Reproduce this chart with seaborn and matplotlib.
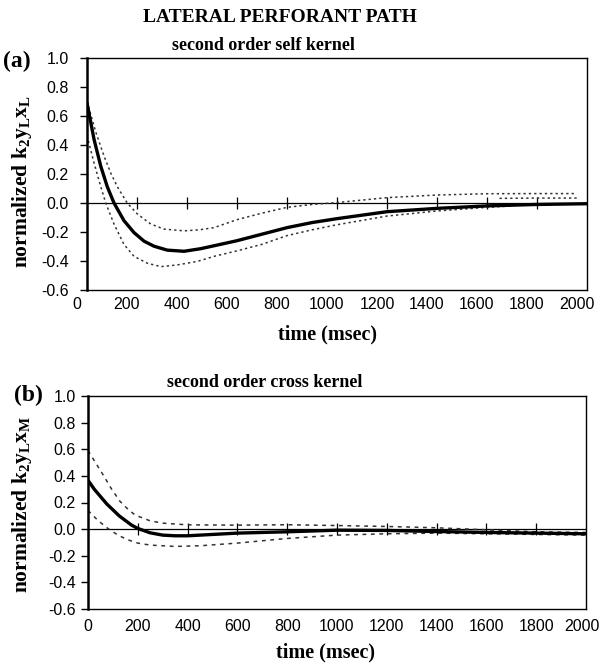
import matplotlib
matplotlib.use("Agg")
import matplotlib.pyplot as plt
import matplotlib.transforms as mtransforms
import seaborn as sns

# ---------------- data ----------------
# Panel (a): second order self kernel
t_a_solid = [0, 28, 55, 81, 108, 148, 188, 228, 268, 321, 388, 455, 508, 600, 700, 800, 900, 1000, 1200, 1400, 1600, 1800, 2000]
a_solid = [0.69, 0.44, 0.254, 0.113, 0.0, -0.122, -0.204, -0.263, -0.298, -0.325, -0.333, -0.315, -0.295, -0.26, -0.215, -0.17, -0.135, -0.108, -0.06, -0.037, -0.02, -0.01, -0.005]

t_a_upper = [0, 35, 68, 95, 121, 161, 201, 255, 308, 388, 450, 508, 600, 700, 800, 900, 1000, 1200, 1400, 1600, 1800, 1960]
a_upper = [0.70, 0.49, 0.324, 0.207, 0.113, 0.0, -0.075, -0.145, -0.18, -0.192, -0.185, -0.17, -0.115, -0.07, -0.03, -0.01, 0.003, 0.037, 0.055, 0.064, 0.065, 0.065]

t_a_lower = [0, 28, 55, 75, 108, 148, 188, 241, 295, 361, 441, 508, 600, 700, 800, 900, 1000, 1200, 1400, 1600, 1700]
a_lower = [0.465, 0.277, 0.113, 0.0, -0.145, -0.286, -0.368, -0.415, -0.439, -0.427, -0.403, -0.368, -0.33, -0.285, -0.225, -0.185, -0.15, -0.09, -0.055, -0.03, -0.02]

t_a_tail = [1650, 1800, 1960]
a_tail = [0.032, 0.034, 0.034]

# Panel (b): second order cross kernel
t_b_solid = [0, 25, 50, 75, 100, 125, 150, 175, 200, 250, 300, 350, 400, 500, 600, 800, 1000, 1200, 1400, 1600, 1800, 2000]
b_solid = [0.367, 0.30, 0.245, 0.19, 0.145, 0.10, 0.065, 0.03, 0.005, -0.028, -0.045, -0.05, -0.05, -0.04, -0.03, -0.02, -0.008, -0.01, -0.018, -0.025, -0.03, -0.035]

t_b_upper = [0, 30, 60, 95, 128, 160, 190, 250, 300, 400, 600, 800, 1000, 1200, 1400, 1600, 1800, 2000]
b_upper = [0.59, 0.50, 0.41, 0.30, 0.21, 0.15, 0.105, 0.062, 0.045, 0.032, 0.03, 0.033, 0.027, 0.02, 0.01, -0.005, -0.02, -0.025]

t_b_lower = [0, 40, 80, 120, 160, 200, 250, 350, 450, 600, 800, 1000, 1200, 1400, 1600, 1800, 2000]
b_lower = [0.14, 0.065, 0.005, -0.045, -0.08, -0.105, -0.12, -0.13, -0.125, -0.105, -0.07, -0.045, -0.035, -0.03, -0.035, -0.04, -0.045]

x_ticks = [0, 200, 400, 600, 800, 1000, 1200, 1400, 1600, 1800, 2000]
inner_ticks = [200, 400, 600, 800, 1000, 1200, 1400, 1600, 1800]
y_ticks = [-0.6, -0.4, -0.2, 0.0, 0.2, 0.4, 0.6, 0.8, 1.0]

main_title = "LATERAL PERFORANT PATH"
sub_a = "second order self kernel"
sub_b = "second order cross kernel"
ylab_a = r"normalized k$_2$y$_L$x$_L$"
ylab_b = r"normalized k$_2$y$_L$x$_M$"
xlab = "time (msec)"

# ---------------- style ----------------
sns.set_theme(style="white")
plt.rcParams["font.family"] = ["Liberation Sans", "DejaVu Sans"]
plt.rcParams["mathtext.fontset"] = "custom"
plt.rcParams["mathtext.rm"] = "Liberation Serif:bold"
plt.rcParams["mathtext.it"] = "Liberation Serif:bold"
plt.rcParams["mathtext.bf"] = "Liberation Serif:bold"

SERIF = "Liberation Serif"

fig = plt.figure(figsize=(6.02, 6.64), dpi=100)
ax_a = fig.add_axes([87 / 602, 1 - 290 / 664, 500 / 602, 232 / 664])
ax_b = fig.add_axes([88 / 602, 1 - 609 / 664, 498 / 602, 213 / 664])


def draw_panel(ax, series, dash, ylabel, ypad, xpad):
    for t, v, kind in series:
        if kind == "solid":
            sns.lineplot(x=t, y=v, ax=ax, color="black", lw=2.4, estimator=None, sort=False)
        else:
            sns.lineplot(x=t, y=v, ax=ax, color="#333333", lw=1.1, estimator=None, sort=False,
                         linestyle=dash)
    ax.set_xlim(0, 2000)
    ax.set_ylim(-0.6, 1.0)
    ax.set_xticks(x_ticks)
    ax.set_xticklabels([str(x) for x in x_ticks])
    ax.set_yticks(y_ticks)
    ax.set_yticklabels([f"{v:.1f}" for v in y_ticks])
    ax.tick_params(axis="x", bottom=False, length=0, pad=xpad, labelsize=11.5, colors="black")
    ax.tick_params(axis="y", left=True, length=5, width=1, direction="out", pad=ypad,
                   labelsize=11.5, colors="black")
    for s in ax.spines.values():
        s.set_color("black")
        s.set_linewidth(1.0)
    ax.spines["left"].set_linewidth(1.8)
    ax.axhline(0, color="black", lw=0.9, zorder=1)
    sec = ax.secondary_xaxis(0.6 / 1.6)
    sec.set_xticks(inner_ticks)
    sec.tick_params(direction="inout", length=8, width=0.9, labelbottom=False, colors="black")
    sec.spines["bottom"].set_visible(False)
    ax.set_ylabel(ylabel, fontfamily=SERIF, fontweight="bold", fontsize=15.5, color="black")
    ax.set_xlabel(xlab, fontfamily=SERIF, fontweight="bold", fontsize=14.5, color="black")


draw_panel(ax_a,
           [(t_a_upper, a_upper, "d"), (t_a_lower, a_lower, "d"), (t_a_tail, a_tail, "d"),
            (t_a_solid, a_solid, "solid")],
           (0, (1.5, 2.0)), ylab_a, 8, 5)
draw_panel(ax_b,
           [(t_b_upper, b_upper, "d"), (t_b_lower, b_lower, "d"), (t_b_solid, b_solid, "solid")],
           (0, (2.5, 3.0)), ylab_b, 4, 7)

# the top panel's tick labels sit a little left of their ticks in the reference
shift = mtransforms.ScaledTranslation(-10 / 100, 0, fig.dpi_scale_trans)
for lab in ax_a.get_xticklabels():
    lab.set_transform(lab.get_transform() + shift)
# keep the last label of the lower panel inside the figure
last = ax_b.get_xticklabels()[-1]
last.set_transform(last.get_transform()
                   + mtransforms.ScaledTranslation(-4 / 100, 0, fig.dpi_scale_trans))

ax_a.yaxis.set_label_coords(-0.105, 0.47)
ax_a.xaxis.set_label_coords(0.482, -0.15)
ax_b.yaxis.set_label_coords(-0.108, 0.49)
ax_b.xaxis.set_label_coords(0.476, -0.155)

fig.text(280 / 602, 1 - 18 / 664, main_title, ha="center", va="center",
         fontfamily=SERIF, fontweight="bold", fontsize=14, color="black")
fig.text(263 / 602, 1 - 45 / 664, sub_a, ha="center", va="center",
         fontfamily=SERIF, fontweight="bold", fontsize=13, color="black")
fig.text(265 / 602, 1 - 383 / 664, sub_b, ha="center", va="center",
         fontfamily=SERIF, fontweight="bold", fontsize=13, color="black")
fig.text(17 / 602, 1 - 61 / 664, "(a)", ha="center", va="center",
         fontfamily=SERIF, fontweight="bold", fontsize=17, color="black")
fig.text(28 / 602, 1 - 395 / 664, "(b)", ha="center", va="center",
         fontfamily=SERIF, fontweight="bold", fontsize=17, color="black")

fig.savefig("out.png", dpi=100)
